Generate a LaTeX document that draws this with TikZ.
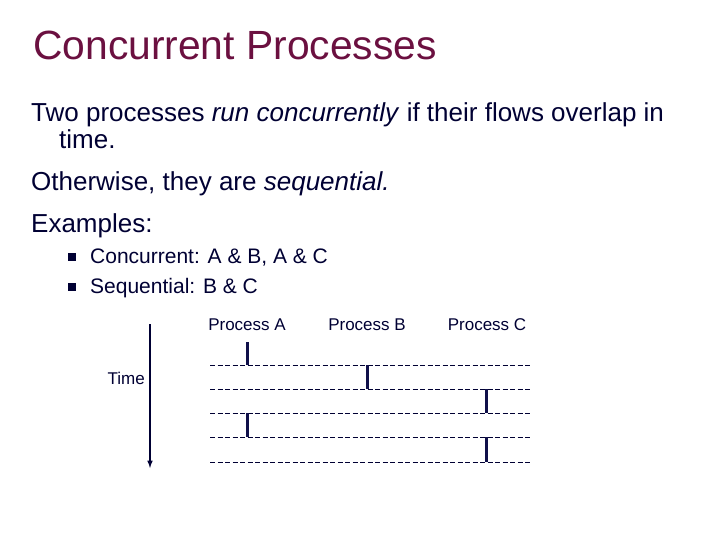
\documentclass[tikz,border=0pt]{standalone}
\usepackage{fontspec}
\setmainfont{Liberation Sans}
\definecolor{ttl}{HTML}{6B1040}
\definecolor{bd}{HTML}{000033}
\definecolor{bar}{HTML}{10104A}
\begin{document}
\begin{tikzpicture}[x=1pt,y=-1pt,
  title/.style={anchor=base west,inner sep=0,text=ttl,font=\fontsize{40.8}{44}\selectfont},
  body/.style={anchor=base west,inner sep=0,text=bd,font=\fontsize{26}{30}\selectfont},
  item/.style={anchor=base west,inner sep=0,text=bd,font=\fontsize{21}{25}\selectfont},
  lab/.style={anchor=base,inner sep=0,text=bd,font=\fontsize{17}{20}\selectfont},
  dl/.style={bd,dash pattern=on 5pt off 2.5pt,line width=0.9pt},
  pb/.style={bar,line width=3pt},
  bul/.style={fill=bd,minimum size=8pt,inner sep=0}]
\useasboundingbox (0,0) rectangle (720,540);
\node[title] (t) at (33,60) {Concurrent Processes};
\node[body] (l1) at (31,122) {Two processes \textit{run concurrently} if their flows overlap in};
\node[body] (l1b) at (59,149) {time.};
\node[body] (l2) at (31,191) {Otherwise, they are \textit{sequential.}};
\node[body] (l3) at (31,233) {Examples:};
\node[bul] (b1) at (72,257) {};
\node[item] (i1) at (90,263) {Concurrent: A \& B, A \& C};
\node[bul] (b2) at (72,287) {};
\node[item] (i2) at (90,293) {Sequential: B \& C};
\node[lab] (pa) at (247,330) {Process A};
\node[lab] (pb) at (367,330) {Process B};
\node[lab] (pc) at (487,330) {Process C};
\node[lab,anchor=base east] (tm) at (145,384) {Time};
\coordinate (ts) at (150,324); \coordinate (te) at (150,468);
\draw[bd,line width=1.5pt,-latex] (ts) -- (te);
\foreach \y/\n in {365/1,389/2,413/3,437/4,462/5}{
  \coordinate (d\n a) at (210,\y); \coordinate (d\n b) at (530,\y);
  \draw[dl] (d\n a) -- (d\n b);}
\draw[pb] (247,342) -- (247,365);
\draw[pb] (367,365) -- (367,389);
\draw[pb] (486,389) -- (486,413);
\draw[pb] (247,413) -- (247,437);
\draw[pb] (486,437) -- (486,462);
\end{tikzpicture}
\end{document}
